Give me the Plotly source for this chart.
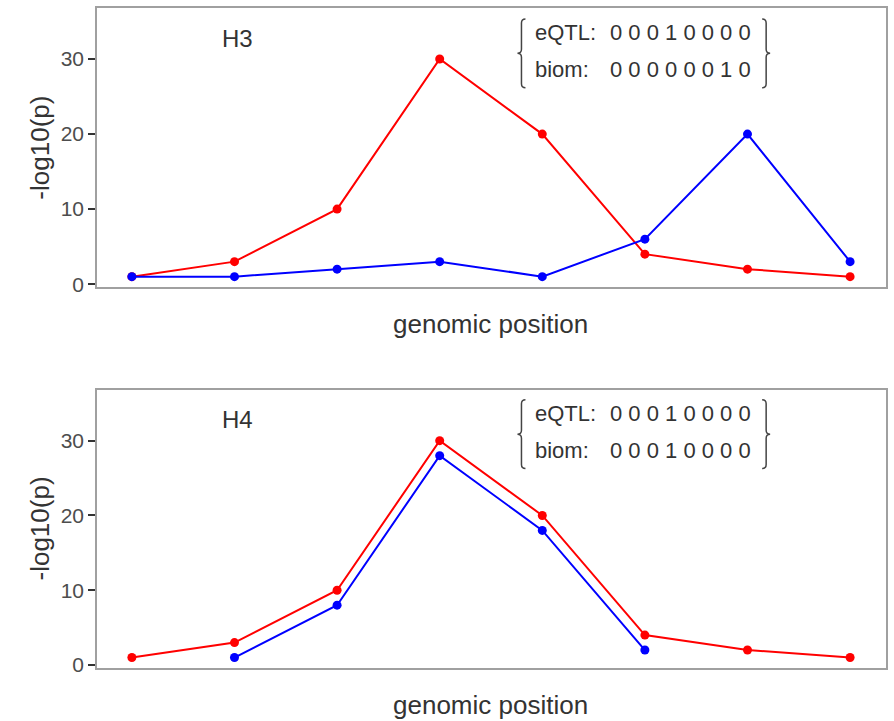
import plotly.graph_objects as go
from plotly.subplots import make_subplots

positions = [1, 2, 3, 4, 5, 6, 7, 8]
h3_eqtl = [1, 3, 10, 30, 20, 4, 2, 1]
h3_biom = [1, 1, 2, 3, 1, 6, 20, 3]
h4_eqtl = [1, 3, 10, 30, 20, 4, 2, 1]
h4_biom = [None, 1, 8, 28, 18, 2, None, None]
panel_labels = ["H3", "H4"]
h3_codes = {"eQTL:": "0 0 0 1 0 0 0 0", "biom:": "0 0 0 0 0 0 1 0"}
h4_codes = {"eQTL:": "0 0 0 1 0 0 0 0", "biom:": "0 0 0 1 0 0 0 0"}
y_ticks = [0, 10, 20, 30]

W, H = 894, 721
ML, MR, MT, MB = 97, 7, 6, 53
PW, PH = W - ML - MR, H - MT - MB

def px(x):
    return (x - ML) / PW

def py(y):
    return (H - MB - y) / PH

FONT = "Liberation Sans, Arial, Helvetica, sans-serif"
RED = "#ff0000"
BLUE = "#0000ff"

fig = make_subplots(rows=2, cols=1, vertical_spacing=0.0)

for row, (red, blue) in enumerate([(h3_eqtl, h3_biom), (h4_eqtl, h4_biom)], start=1):
    fig.add_trace(go.Scatter(x=positions, y=red, mode="lines+markers",
                             line=dict(color=RED, width=2), marker=dict(color=RED, size=9),
                             showlegend=False), row=row, col=1)
    fig.add_trace(go.Scatter(x=positions, y=blue, mode="lines+markers",
                             line=dict(color=BLUE, width=2), marker=dict(color=BLUE, size=9),
                             showlegend=False), row=row, col=1)

top_dom = [py(286), py(6)]
bot_dom = [py(668), py(389)]

axis_common = dict(showline=True, linecolor="#a0a0a0", linewidth=1.5, mirror=True,
                   showgrid=False, zeroline=False)
fig.update_xaxes(range=[0.66, 8.35], showticklabels=False, ticks="", **axis_common)
fig.update_yaxes(range=[-0.4, 36.8], tickvals=y_ticks, ticks="outside", ticklen=7,
                 tickwidth=1.5, tickcolor="#333333",
                 tickfont=dict(family=FONT, size=21, color="#4d4d4d"), **axis_common)
fig.update_layout(yaxis=dict(domain=top_dom), yaxis2=dict(domain=bot_dom))

annotations = []
shapes = []
gray = "#333333"
for i, (label, codes) in enumerate(zip(panel_labels, [h3_codes, h4_codes])):
    off = 0 if i == 0 else 382
    xa = "x" if i == 0 else "x2"
    ya = "y" if i == 0 else "y2"
    annotations.append(dict(x=2.03, y=32.8, xref=xa, yref=ya, text=label, showarrow=False,
                            font=dict(family=FONT, size=24, color=gray)))
    for j, (k, v) in enumerate(codes.items()):
        yy = py((31 if j == 0 else 68) + off)
        annotations.append(dict(x=px(534), y=yy, xref="paper", yref="paper", text=k,
                                showarrow=False, xanchor="left", yanchor="middle",
                                font=dict(family=FONT, size=22, color=gray)))
        annotations.append(dict(x=px(609), y=yy, xref="paper", yref="paper",
                                text=v,
                                showarrow=False, xanchor="left", yanchor="middle",
                                font=dict(family=FONT, size=22, color=gray)))
    # braces
    yt, ym, yb = 17 + off, 51.5 + off, 86 + off
    for xh, xv, xt in [(526, 522, 518), (763, 767, 771)]:
        pts = [
            f"M {px(xh)},{py(yt)}",
            f"Q {px(xv)},{py(yt)} {px(xv)},{py(yt + 4)}",
            f"L {px(xv)},{py(ym - 4)}",
            f"Q {px(xv)},{py(ym)} {px(xt)},{py(ym)}",
            f"Q {px(xv)},{py(ym)} {px(xv)},{py(ym + 4)}",
            f"L {px(xv)},{py(yb - 4)}",
            f"Q {px(xv)},{py(yb)} {px(xh)},{py(yb)}",
        ]
        shapes.append(dict(type="path", path=" ".join(pts), xref="paper", yref="paper",
                           line=dict(color="#444444", width=1.5)))
    annotations.append(dict(x=px(491), y=py(323 + off), xref="paper", yref="paper",
                            text="genomic position", showarrow=False, yanchor="middle",
                            font=dict(family=FONT, size=26, color=gray)))
    annotations.append(dict(x=px(40), y=py(146 + off), xref="paper", yref="paper",
                            text="-log10(p)", showarrow=False, textangle=-90,
                            xanchor="center", yanchor="middle",
                            font=dict(family=FONT, size=26, color=gray)))

fig.update_layout(width=W, height=H, margin=dict(l=ML, r=MR, t=MT, b=MB),
                  paper_bgcolor="white", plot_bgcolor="white",
                  annotations=annotations, shapes=shapes)

fig.write_html("out.html")
